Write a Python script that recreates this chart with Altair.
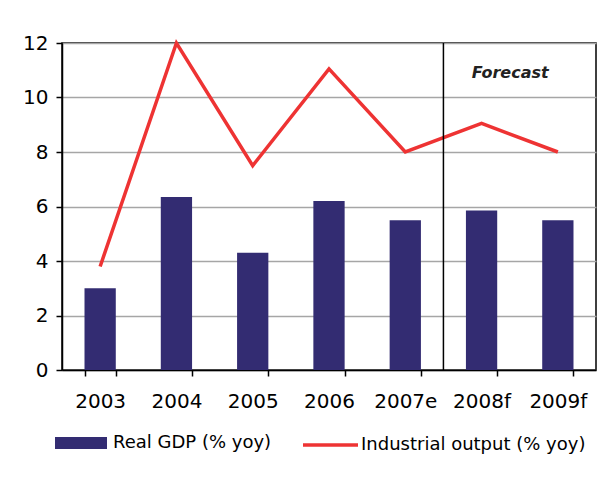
import altair as alt
import pandas as pd

years = ["2003", "2004", "2005", "2006", "2007e", "2008f", "2009f"]
gdp = [3.0, 6.35, 4.3, 6.2, 5.5, 5.85, 5.5]
industrial = [3.8, 12.0, 7.5, 11.05, 8.0, 9.05, 8.0]
gdp_label = "Real GDP (% yoy)"
io_label = "Industrial output (% yoy)"
last_actual = "2007e"
forecast_anchor = "2008f"
forecast_text = "Forecast"
forecast_text_y = 10.9
y_ticks = [0, 2, 4, 6, 8, 10, 12]

FONT = "DejaVu Sans"
PAD_IN = 0.59
W, H = 534, 327
STEP = W / len(years)
BAR_COLOR = "#332C72"
LINE_COLOR = "#EE3333"
BAR_SYM = 2704
LINE_SYM = 3025

df = pd.DataFrame({"year": years, "gdp": gdp, "io": industrial})
df["gdp_series"] = gdp_label
df["io_series"] = io_label

xscale = alt.Scale(domain=years, paddingInner=PAD_IN, paddingOuter=PAD_IN / 2)
xaxis = alt.Axis(title=None, tickBand="extent", labelAngle=0, labelPadding=15,
                 grid=False)
yscale = alt.Scale(domain=[0, 12], nice=False)
yaxis = alt.Axis(title=None, values=y_ticks, labelPadding=8, grid=True)

base = alt.Chart(df)

bars = base.mark_bar().encode(
    x=alt.X("year:N", scale=xscale, axis=xaxis),
    y=alt.Y("gdp:Q", scale=yscale, axis=yaxis),
    fill=alt.Fill("gdp_series:N", scale=alt.Scale(range=[BAR_COLOR]),
                  legend=alt.Legend(title=None, orient="none", legendX=-7,
                                    legendY=400 - BAR_SYM ** 0.5 / 2,
                                    symbolType="M-1,-0.23H1V0.23H-1Z", symbolSize=BAR_SYM,
                                    symbolStrokeWidth=0, labelOffset=6, padding=0,
                                    labelLimit=400,
                                    labelFontSize=18, labelFont=FONT, labelColor="black")),
)

line = base.mark_line(strokeWidth=3.5).encode(
    x=alt.X("year:N", scale=xscale, axis=xaxis),
    y=alt.Y("io:Q", scale=yscale, axis=yaxis),
    stroke=alt.Stroke("io_series:N", scale=alt.Scale(range=[LINE_COLOR]),
                      legend=alt.Legend(title=None, orient="none", legendX=239,
                                        legendY=400 - LINE_SYM ** 0.5 / 2,
                                        symbolType="M-1,0H1", symbolSize=LINE_SYM,
                                        symbolStrokeWidth=3.5, labelOffset=1, padding=0,
                                        labelLimit=400,
                                        labelFontSize=18, labelFont=FONT, labelColor="black")),
)

rule_df = pd.DataFrame({"year": [last_actual]})
rule = alt.Chart(rule_df).mark_rule(color="black", strokeWidth=1.5,
                                    xOffset=STEP * PAD_IN / 2).encode(
    x=alt.X("year:N", scale=xscale, bandPosition=1),
)

text_df = pd.DataFrame({"year": [forecast_anchor], "y": [forecast_text_y], "t": [forecast_text]})
text = alt.Chart(text_df).mark_text(font=FONT, fontSize=16, fontWeight="bold",
                                    fontStyle="italic", color="#222222",
                                    baseline="middle", align="center", dx=13).encode(
    x=alt.X("year:N", scale=xscale, bandPosition=1),
    y=alt.Y("y:Q", scale=yscale),
    text="t:N",
)

chart = alt.layer(bars, line, rule, text).properties(
    width=W, height=H,
    autosize=alt.AutoSizeParams(type="none"),
    padding={"left": 54, "top": 35, "right": 2, "bottom": 101},
).configure_view(
    stroke="black", strokeWidth=1.5
).configure_axis(
    domainColor="black", domainWidth=1.5, tickColor="black", tickWidth=1.5,
    tickSize=6, labelFont=FONT, labelFontSize=20, labelColor="black",
    gridColor="#A6A6A6", gridWidth=1.5,
)

chart.save("out.html", embed_options={"renderer": "svg", "actions": False})
